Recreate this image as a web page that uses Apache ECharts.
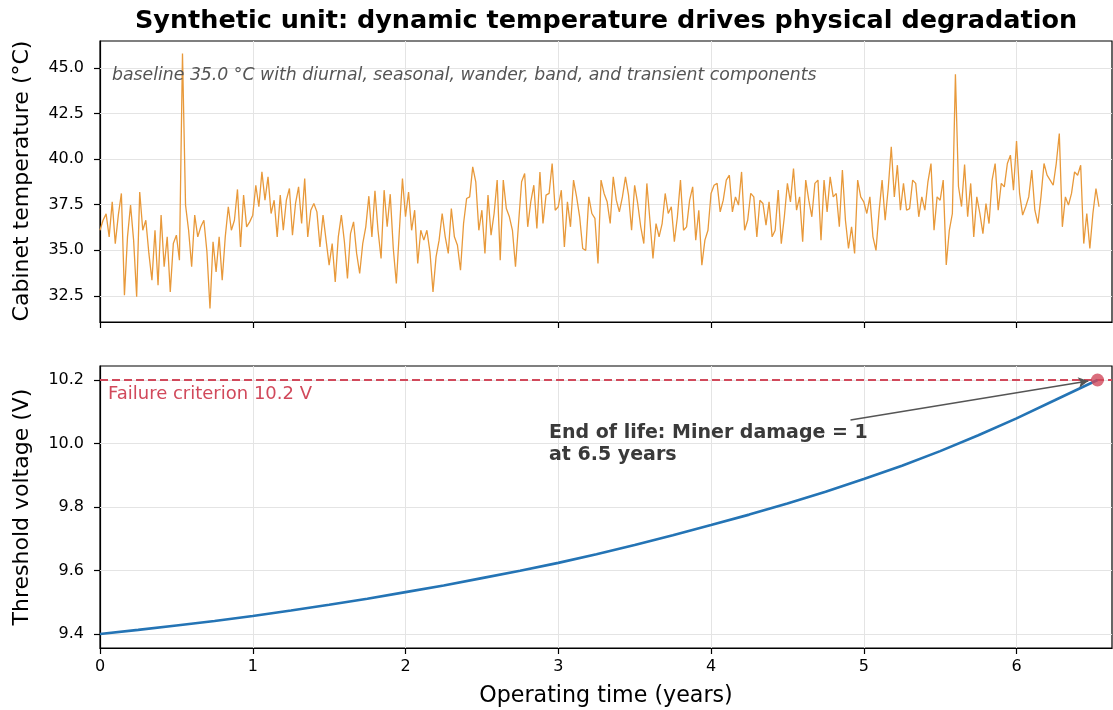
<!DOCTYPE html>
<html><head><meta charset="utf-8">
<script src="https://cdn.jsdelivr.net/npm/echarts@6/dist/echarts.min.js"></script>
<style>html,body{margin:0;padding:0;background:#fff}#c{width:1113px;height:710px}</style>
</head><body><div id="c"></div>
<script>
// ---- data ----
const tempStepYears = 0.02; // samples every 0.02 years
const temps = [
 36.1, 36.65, 37.0, 35.74, 37.66, 35.37, 36.93, 38.12, 32.54, 35.74,
 37.48, 35.56, 32.45, 38.2, 36.1, 36.65, 34.83, 33.36, 36.1, 33.09,
 36.93, 34.1, 35.74, 32.72, 35.37, 35.83, 34.46, 45.8, 37.48, 36.1,
 34.1, 36.93, 35.74, 36.29, 36.65, 34.92, 31.81, 35.47, 33.82, 35.74,
 33.36, 35.74, 37.39, 36.1, 36.65, 38.34, 35.19, 38.03, 36.29, 36.56,
 36.93, 38.57, 37.39, 39.3, 37.75, 39.03, 37.02, 37.75, 35.74, 38.03,
 36.1, 37.75, 38.39, 35.83, 37.57, 38.48, 36.47, 38.94, 35.74, 37.2,
 37.57, 37.11, 35.19, 36.93, 35.56, 34.19, 35.37, 33.27, 35.74, 36.93,
 35.47, 33.46, 35.92, 36.56, 34.83, 33.73, 35.37, 36.29, 37.97, 35.74,
 38.26, 36.1, 34.55, 38.3, 36.29, 38.08, 35.1, 33.18, 36.1, 38.94,
 36.84, 38.2, 36.1, 37.2, 34.28, 36.1, 35.56, 36.1, 34.92, 32.72,
 34.64, 35.56, 37.02, 35.74, 34.83, 37.29, 35.74, 35.28, 33.91, 36.47,
 37.84, 37.93, 39.58, 38.76, 36.1, 37.2, 34.83, 38.03, 35.83, 37.02,
 38.85, 34.46, 38.85, 37.29, 36.84, 36.1, 34.1, 36.47, 38.76, 39.21,
 36.29, 37.66, 38.57, 36.2, 39.3, 36.47, 38.03, 38.12, 39.76, 37.2,
 37.39, 38.3, 35.19, 37.66, 36.29, 38.85, 37.93, 36.84, 35.1, 35.0,
 37.93, 37.02, 36.75, 34.28, 38.85, 38.12, 37.66, 36.47, 39.03, 37.75,
 37.11, 37.93, 39.03, 38.03, 36.1, 38.57, 37.57, 36.29, 35.37, 38.67,
 36.65, 34.55, 36.47, 35.74, 36.47, 38.12, 37.02, 37.39, 35.47, 36.84,
 38.85, 36.1, 36.29, 37.75, 38.48, 35.56, 37.2, 34.19, 35.56, 36.1,
 38.12, 38.57, 38.67, 37.11, 37.75, 38.85, 39.12, 37.11, 37.93, 37.48,
 39.3, 36.1, 36.65, 38.12, 37.93, 35.74, 37.75, 37.57, 36.38, 37.66,
 35.74, 36.1, 38.3, 35.37, 36.84, 38.67, 37.66, 39.49, 37.2, 37.93,
 35.47, 38.85, 37.75, 36.84, 38.67, 38.85, 35.56, 38.85, 37.11, 39.03,
 37.93, 38.12, 36.29, 39.4, 36.65, 35.1, 36.29, 34.83, 38.85, 37.93,
 37.66, 37.02, 37.93, 35.74, 35.0, 37.11, 38.85, 36.65, 38.39, 40.68,
 37.93, 39.67, 37.2, 38.67, 37.2, 37.29, 38.85, 38.67, 36.84, 37.93,
 37.2, 38.76, 39.76, 36.1, 37.93, 37.75, 38.85, 34.2, 36.1, 37.02,
 44.65, 38.5, 37.4, 39.7, 36.84, 38.67, 35.74, 37.93, 37.02, 35.92,
 37.57, 36.47, 38.85, 39.76, 37.2, 38.67, 38.48, 39.76, 40.22, 38.3,
 41.0, 38.12, 36.93, 37.39, 37.93, 39.4, 37.2, 36.47, 37.93, 39.76,
 39.12, 38.85, 38.57, 39.76, 41.4, 36.29, 37.93, 37.48, 38.12, 39.3,
 39.12, 39.67, 35.37, 37.02, 35.1, 37.02, 38.39, 37.39
];
const voltYears = [0, 0.25, 0.5, 0.75, 1, 1.25, 1.5, 1.75, 2, 2.25, 2.5, 2.75, 3, 3.25, 3.5, 3.75, 4, 4.25, 4.5, 4.75, 5, 5.25, 5.5, 5.75, 6, 6.25, 6.53];
const voltValues = [9.400, 9.413, 9.427, 9.441, 9.457, 9.474, 9.492, 9.511, 9.532, 9.553, 9.576, 9.599, 9.624, 9.651, 9.680, 9.711, 9.743, 9.776, 9.811, 9.848, 9.888, 9.930, 9.976, 10.026, 10.079, 10.136, 10.200];
const failureVoltage = 10.2;
const eolYears = 6.53;
const yearTicks = [0, 1, 2, 3, 4, 5, 6];
const tempTicks = [32.5, 35, 37.5, 40, 42.5, 45];
const voltTicks = [9.4, 9.6, 9.8, 10.0, 10.2];

const titleText = 'Synthetic unit: dynamic temperature drives physical degradation';
const noteText = 'baseline 35.0 \u00B0C with diurnal, seasonal, wander, band, and transient components';
const failText = 'Failure criterion 10.2 V';
const eolText = 'End of life: Miner damage = 1\nat 6.5 years';
const xName = 'Operating time (years)';
const yTopName = 'Cabinet temperature (\u00B0C)';
const yBotName = 'Threshold voltage (V)';

// ---- chart ----
const FONT = '"DejaVu Sans", Verdana, sans-serif';
const RED = '#d1495b';
const GRIDC = '#e4e4e4';
const chart = echarts.init(document.getElementById('c'), null, {renderer: 'canvas'});
const tempData = temps.map((v, i) => [+(i * tempStepYears).toFixed(4), v]);
const voltData = voltYears.map((t, i) => [t, voltValues[i]]);

function xAxisDef(gi, labels) {
  return {
    type: 'value', gridIndex: gi, min: 0, max: 6.625,
    axisLine: {show: true, onZero: false, lineStyle: {color: '#000', width: 1.2}},
    axisTick: {show: true, customValues: yearTicks, length: 6, lineStyle: {color: '#000', width: 1.2}},
    axisLabel: {show: labels, customValues: yearTicks, fontSize: 16, color: '#000', fontFamily: FONT, margin: 11,
      formatter: v => String(Math.round(v))},
    splitLine: {show: false}
  };
}
function yAxisDef(gi, mn, mx, ticks) {
  return {
    type: 'value', gridIndex: gi, min: mn, max: mx,
    axisLine: {show: true, onZero: false, lineStyle: {color: '#000', width: 1.2}},
    axisTick: {show: true, customValues: ticks, length: 6, lineStyle: {color: '#000', width: 1.2}},
    axisLabel: {show: true, customValues: ticks, fontSize: 16, color: '#000', fontFamily: FONT, margin: 16,
      formatter: v => v.toFixed(1)},
    splitLine: {show: false}
  };
}
function gridSeries(xi, yi, yt) {
  return {
    type: 'line', xAxisIndex: xi, yAxisIndex: yi, data: [], silent: true, z: 1,
    markLine: {silent: true, z: 1, symbol: 'none', animation: false, label: {show: false},
      lineStyle: {color: GRIDC, width: 1, type: 'solid'},
      data: yearTicks.filter(x => x > 0).map(x => ({xAxis: x})).concat(yt.map(y => ({yAxis: y})))}
  };
}
function txt(x, y, text, font, fill, align, extra) {
  return Object.assign({type: 'text', x: x, y: y, z: 100, zlevel: 0,
    style: {text: text, fill: fill, font: font, align: align, textAlign: align,
      verticalAlign: 'middle', textVerticalAlign: 'middle', lineHeight: 22}}, extra || {});
}

const option = {
  animation: false,
  backgroundColor: '#fff',
  grid: [
    {left: 100, top: 41, width: 1012, height: 281, show: true, borderColor: '#000', borderWidth: 1.2, backgroundColor: 'transparent'},
    {left: 100, top: 366, width: 1012, height: 282, show: true, borderColor: '#000', borderWidth: 1.2, backgroundColor: 'transparent'}
  ],
  xAxis: [xAxisDef(0, false), xAxisDef(1, true)],
  yAxis: [yAxisDef(0, 31.07, 46.48, tempTicks), yAxisDef(1, 9.356, 10.244, voltTicks)],
  series: [
    gridSeries(0, 0, tempTicks),
    gridSeries(1, 1, voltTicks),
    {
      type: 'line', xAxisIndex: 0, yAxisIndex: 0, data: tempData, symbol: 'none', showSymbol: false,
      lineStyle: {color: '#e8993a', width: 1.3}, z: 3, silent: true
    },
    {
      type: 'line', xAxisIndex: 1, yAxisIndex: 1, data: [], silent: true, z: 2,
      markLine: {silent: true, z: 2, symbol: 'none', animation: false, label: {show: false},
        lineStyle: {color: RED, width: 2, type: [8, 4]},
        data: [{yAxis: failureVoltage}]}
    },
    {
      type: 'line', xAxisIndex: 1, yAxisIndex: 1, data: voltData, symbol: 'none', showSymbol: false,
      smooth: false,
      lineStyle: {color: '#2474b5', width: 2.6}, z: 3, silent: true
    },
    {
      type: 'scatter', xAxisIndex: 1, yAxisIndex: 1, data: [[eolYears, failureVoltage]],
      symbolSize: 13, itemStyle: {color: RED}, z: 5, silent: true
    },
    {
      type: 'line', xAxisIndex: 1, yAxisIndex: 1, data: [], silent: true, z: 4,
      markLine: {silent: true, z: 4, symbol: ['none', 'arrow'], symbolSize: [8, 10], animation: false, label: {show: false},
        lineStyle: {color: '#555', width: 1.5, type: 'solid'},
        data: [[{coord: [4.913, 10.074]}, {coord: [6.47, 10.197]}]]}
    }
  ],
  graphic: [
    txt(606, 21, titleText, 'bold 25.5px ' + FONT, '#000', 'center'),
    txt(112, 76, noteText, 'italic 17.3px ' + FONT, '#555', 'left'),
    txt(108, 394, failText, '18px ' + FONT, RED, 'left'),
    txt(549, 444, eolText, 'bold 19px ' + FONT, '#3a3a3a', 'left'),
    txt(606, 696, xName, '22.2px ' + FONT, '#000', 'center'),
    txt(22, 181, yTopName, '22px ' + FONT, '#000', 'center', {rotation: Math.PI / 2}),
    txt(22, 507, yBotName, '22px ' + FONT, '#000', 'center', {rotation: Math.PI / 2})
  ]
};
chart.setOption(option);
</script>
</body></html>
